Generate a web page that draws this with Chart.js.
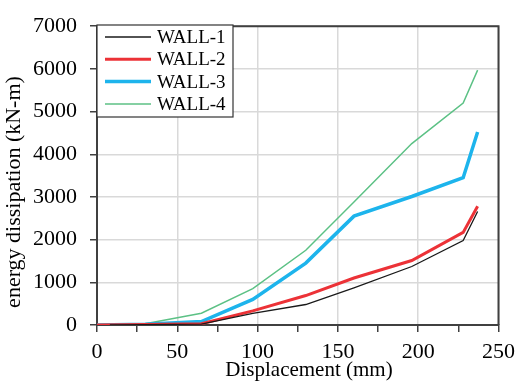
<!DOCTYPE html>
<html>
<head>
<meta charset="utf-8">
<script src="https://cdn.jsdelivr.net/npm/chart.js@4.4.1/dist/chart.umd.min.js"></script>
<style>
  html, body { margin: 0; padding: 0; background: #fff; }
  #wrap { width: 522px; height: 383px; position: relative; }
</style>
</head>
<body>
<div id="wrap"><canvas id="chart" width="522" height="383"></canvas></div>
<script>
// Series data (displacement in mm, energy in kN-m)
const wall1Disp = [8, 30, 65, 97, 130, 160, 196, 228, 237];
const wall1Energy = [0, 10, 20, 270, 480, 870, 1370, 1980, 2660];

const wall2Disp = [0, 30, 65, 97, 130, 160, 196, 228, 237];
const wall2Energy = [0, 10, 30, 330, 690, 1100, 1510, 2170, 2780];

const wall3Disp = [0, 30, 65, 97, 130, 160, 196, 228, 237];
const wall3Energy = [0, 20, 80, 600, 1450, 2550, 3010, 3450, 4520];

const wall4Disp = [0, 30, 65, 97, 130, 160, 196, 228, 237];
const wall4Energy = [0, 30, 275, 850, 1750, 2880, 4250, 5200, 5970];

const seriesNames = ['WALL-1', 'WALL-2', 'WALL-3', 'WALL-4'];
const seriesColors = ['#1a1a1a', '#ec3237', '#1db4ec', '#5cc185'];
const seriesWidths = [1.3, 3, 3.5, 1.5];

const xTitle = 'Displacement (mm)';
const yTitle = 'energy dissipation (kN-m)';

const serif = "'Liberation Serif', 'Times New Roman', serif";

function pairs(xs, ys) {
  return xs.map((x, i) => ({ x, y: ys[i] }));
}

const allData = [
  pairs(wall1Disp, wall1Energy),
  pairs(wall2Disp, wall2Energy),
  pairs(wall3Disp, wall3Energy),
  pairs(wall4Disp, wall4Energy)
];

// Frame, axis titles and boxed legend drawn on top of the chart
const decorPlugin = {
  id: 'decor',
  afterDraw(chart) {
    const { ctx, chartArea: a } = chart;
    ctx.save();
    // top/right frame
    ctx.strokeStyle = '#404040';
    ctx.lineWidth = 2;
    ctx.beginPath();
    ctx.moveTo(a.left, a.top);
    ctx.lineTo(a.right, a.top);
    ctx.lineTo(a.right, a.bottom);
    ctx.stroke();

    // x axis title (sits a little right of centre, as in the source)
    ctx.fillStyle = '#000';
    ctx.font = '21px ' + serif;
    ctx.textAlign = 'center';
    ctx.textBaseline = 'middle';
    ctx.fillText(xTitle, 309, 370);

    // y axis title
    ctx.font = '22px ' + serif;
    ctx.translate(14, 192);
    ctx.rotate(-Math.PI / 2);
    ctx.fillText(yTitle, 0, 0);
    ctx.restore();

    // legend box
    ctx.save();
    const bx = 97, by = 25, bw = 136, bh = 92;
    ctx.fillStyle = '#fff';
    ctx.fillRect(bx, by, bw, bh);
    ctx.strokeStyle = '#333';
    ctx.lineWidth = 1.2;
    ctx.strokeRect(bx, by, bw, bh);
    ctx.font = '19px ' + serif;
    ctx.textAlign = 'left';
    ctx.textBaseline = 'middle';
    chart.data.datasets.forEach((ds, i) => {
      const y = 37 + i * 22.3;
      ctx.strokeStyle = ds.borderColor;
      ctx.lineWidth = ds.borderWidth;
      ctx.beginPath();
      ctx.moveTo(105, y);
      ctx.lineTo(151, y);
      ctx.stroke();
      ctx.fillStyle = '#000';
      ctx.fillText(ds.label, 157, y + 1);
    });
    ctx.restore();
  }
};

new Chart(document.getElementById('chart'), {
  type: 'line',
  data: {
    datasets: seriesNames.map((name, i) => ({
      label: name,
      data: allData[i],
      borderColor: seriesColors[i],
      backgroundColor: seriesColors[i],
      borderWidth: seriesWidths[i],
      pointRadius: 0,
      tension: 0,
      fill: false
    }))
  },
  options: {
    responsive: false,
    animation: false,
    devicePixelRatio: 1,
    layout: { padding: { left: 0, top: 19, right: 20, bottom: 0 } },
    plugins: {
      legend: { display: false },
      tooltip: { enabled: false }
    },
    scales: {
      x: {
        type: 'linear',
        min: 0,
        max: 250,
        afterFit: (scale) => { scale.height = 58; },
        ticks: {
          stepSize: 25,
          color: '#000',
          padding: 7,
          maxRotation: 0,
          autoSkip: false,
          font: { family: serif, size: 22 },
          callback: (v) => (v % 50 === 0 ? String(v) : '')
        },
        grid: {
          color: (c) => (c.tick && c.tick.value % 50 === 0 && c.tick.value !== 0 ? '#d9d9d9' : 'rgba(0,0,0,0)'),
          lineWidth: 1.5,
          tickLength: 7,
          tickColor: '#404040',
          tickWidth: 1.5
        },
        border: { color: '#404040', width: 2 }
      },
      y: {
        min: 0,
        max: 7000,
        afterFit: (scale) => { scale.width = 97; },
        ticks: {
          stepSize: 1000,
          color: '#000',
          padding: 13,
          font: { family: serif, size: 22 },
          callback: (v) => String(v)
        },
        grid: {
          color: (c) => (c.tick && c.tick.value !== 0 ? '#d9d9d9' : 'rgba(0,0,0,0)'),
          lineWidth: 1.5,
          tickLength: 7,
          tickColor: '#404040',
          tickWidth: 1.5
        },
        border: { color: '#404040', width: 2 }
      }
    }
  },
  plugins: [decorPlugin]
});
</script>
</body>
</html>
